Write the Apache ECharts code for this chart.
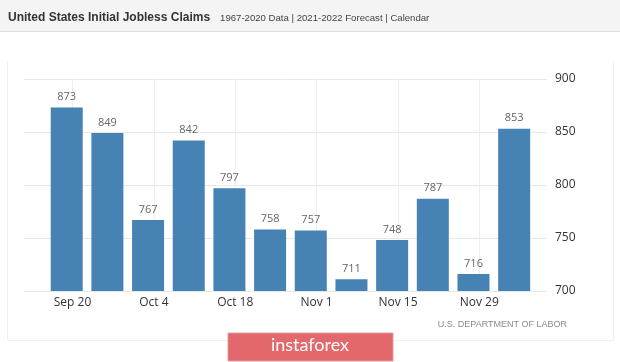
<!DOCTYPE html>
<html>
<head>
<meta charset="utf-8">
<script src="https://cdn.jsdelivr.net/npm/echarts@6/dist/echarts.min.js"></script>
<style>
html,body{margin:0;padding:0;background:#fff;}
#chart{width:620px;height:362px;}
</style>
</head>
<body>
<div id="chart"></div>
<script>
// ---- data ----
var weekEnding = ["2020-09-19","2020-09-26","2020-10-03","2020-10-10","2020-10-17","2020-10-24",
                  "2020-10-31","2020-11-07","2020-11-14","2020-11-21","2020-11-28","2020-12-05"];
var claims = [873, 849, 767, 842, 797, 758, 757, 711, 748, 787, 716, 853];
var tickDates = ["2020-09-20","2020-10-04","2020-10-18","2020-11-01","2020-11-15","2020-11-29"];
var tickLabels = ["Sep 20", "Oct 4", "Oct 18", "Nov 1", "Nov 15", "Nov 29"];
var yTicks = [700, 750, 800, 850, 900];

var DAY = 86400000;
var origin = Date.UTC(2020, 8, 20);
function dayOf(s){ var p = s.split('-'); return Math.round((Date.UTC(+p[0], +p[1]-1, +p[2]) - origin) / DAY); }
var barData = weekEnding.map(function(d, i){ return [dayOf(d), claims[i]]; });
var tickDays = tickDates.map(dayOf);

var chart = echarts.init(document.getElementById('chart'), null, {renderer:'canvas'});
var option = {
  animation: false,
  backgroundColor: '#ffffff',
  title: {
    left: 8, top: 9, padding: 0,
    text: '{b|United States Initial Jobless Claims}  {n|1967-2020 Data | 2021-2022 Forecast | Calendar}',
    textStyle: {
      fontWeight: 'normal',
      rich: {
        b: {fontFamily: 'Liberation Sans', fontWeight: 'bold', fontSize: 12, color: '#333'},
        n: {fontFamily: 'Liberation Sans', fontWeight: 'normal', fontSize: 9.6, color: '#444'}
      }
    }
  },
  graphic: [
    {type: 'rect', z: -10, silent: true, shape: {x: 0, y: 0, width: 620, height: 31}, style: {fill: '#f4f4f4', stroke: null}},
    {type: 'line', z: -9, silent: true, shape: {x1: 0, y1: 31.5, x2: 620, y2: 31.5}, style: {stroke: '#dedede', lineWidth: 1}},
    {type: 'polyline', z: -9, silent: true, shape: {points: [[7.5, 62], [7.5, 340.5], [613.5, 340.5], [613.5, 62]]}, style: {stroke: '#f0f0f0', fill: null, lineWidth: 1}},
    {type: 'text', right: 53, top: 320, style: {text: 'U.S. DEPARTMENT OF LABOR', fontFamily: 'Liberation Sans', fontSize: 9, fill: '#8a8a8a'}},
    {type: 'rect', silent: true, shape: {x: 228, y: 333, width: 165, height: 28}, style: {fill: '#e2686c', stroke: '#d9a0a2', lineWidth: 1}},
    {type: 'text', left: 'center', top: 336, style: {text: 'instaforex', fontFamily: 'Lato', fontSize: 18, fill: '#ffffff'}}
  ],
  grid: {left: 24, right: 73, top: 79, bottom: 71},
  xAxis: {
    type: 'value', min: -8.35, max: 81.65,
    axisLine: {show: false},
    axisTick: {show: false, customValues: tickDays},
    splitLine: {show: true, lineStyle: {color: '#efefef', width: 1}},
    axisLabel: {customValues: tickDays, margin: 6, color: '#333', fontSize: 12, fontFamily: 'Open Sans',
      formatter: function(v){ var i = tickDays.indexOf(Math.round(v)); return i >= 0 ? tickLabels[i] : ''; }}
  },
  yAxis: {
    type: 'value', position: 'right', min: yTicks[0], max: yTicks[yTicks.length-1], interval: 50,
    axisLine: {show: false}, axisTick: {show: false},
    splitLine: {show: true, lineStyle: {color: '#e8e8e8', width: 1}},
    axisLabel: {margin: 8, color: '#333', fontSize: 12, fontFamily: 'Open Sans'}
  },
  series: [
    {type: 'bar', data: barData, barWidth: 32,
     itemStyle: {color: '#4682b4'},
     label: {show: true, position: 'top', distance: 5, color: '#666', fontSize: 11, fontFamily: 'Open Sans'}}
  ]
};
chart.setOption(option);
</script>
</body>
</html>
